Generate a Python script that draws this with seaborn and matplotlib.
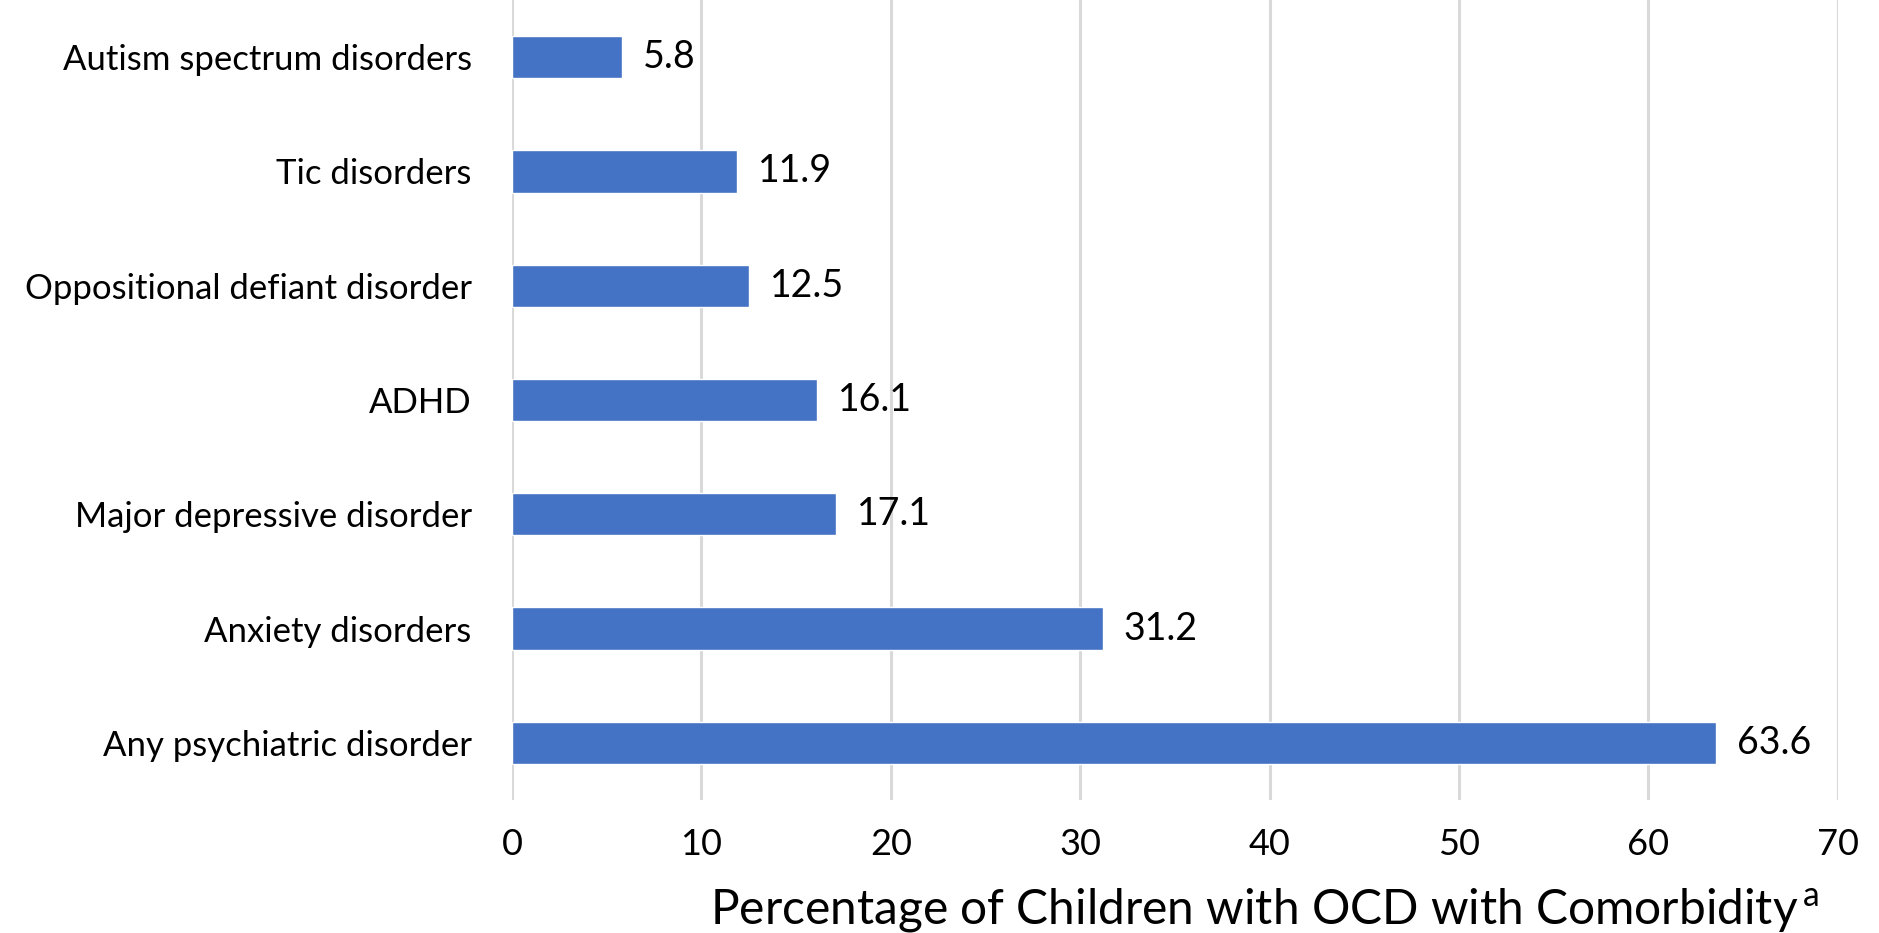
import matplotlib
matplotlib.use("Agg")
import matplotlib.pyplot as plt
import seaborn as sns
import pandas as pd

# Comorbid conditions among children with OCD
categories = [
    "Autism spectrum disorders",
    "Tic disorders",
    "Oppositional defiant disorder",
    "ADHD",
    "Major depressive disorder",
    "Anxiety disorders",
    "Any psychiatric disorder",
]
percentages = [5.8, 11.9, 12.5, 16.1, 17.1, 31.2, 63.6]
x_ticks = [0, 10, 20, 30, 40, 50, 60, 70]
x_label = "Percentage of Children with OCD with Comorbidity"

df = pd.DataFrame({"condition": categories, "pct": percentages})

sns.set_theme(style="white")
plt.rcParams["font.family"] = ["Lato", "DejaVu Sans"]
plt.rcParams["mathtext.fontset"] = "custom"
plt.rcParams["mathtext.rm"] = "Lato"

fig = plt.figure(figsize=(18.79, 9.33), dpi=100)
ax = fig.add_axes([0.2725, 0.1426, 0.7055, 0.8574])

sns.barplot(data=df, x="pct", y="condition", orient="h", color="#4472C4",
            saturation=1, width=0.37, ax=ax, order=categories)

ax.set_xlim(0, 70)
ax.set_ylim(6.5, -0.5)
ax.set_xticks(x_ticks)
ax.set_xticklabels([str(t) for t in x_ticks])
ax.xaxis.grid(True, color="#D9D9D9", linewidth=2.2)
ax.set_axisbelow(True)
for s in ax.spines.values():
    s.set_visible(False)
ax.tick_params(axis="x", length=0, labelsize=26, colors="black", pad=20)
ax.tick_params(axis="y", length=0, labelsize=25, colors="black", pad=29)
ax.set_ylabel("")
ax.set_xlabel("")

for i, v in enumerate(percentages):
    ax.annotate(f"{v}", xy=(v, i), xytext=(15, 0), textcoords="offset points",
                va="center", ha="left", fontsize=27, color="black")

fig.text(0.673, 0.024, x_label + r"$^{\,\mathrm{a}}$", ha="center", va="center",
         fontsize=34.5, color="black")

fig.savefig("out.png", dpi=100, facecolor="white")
